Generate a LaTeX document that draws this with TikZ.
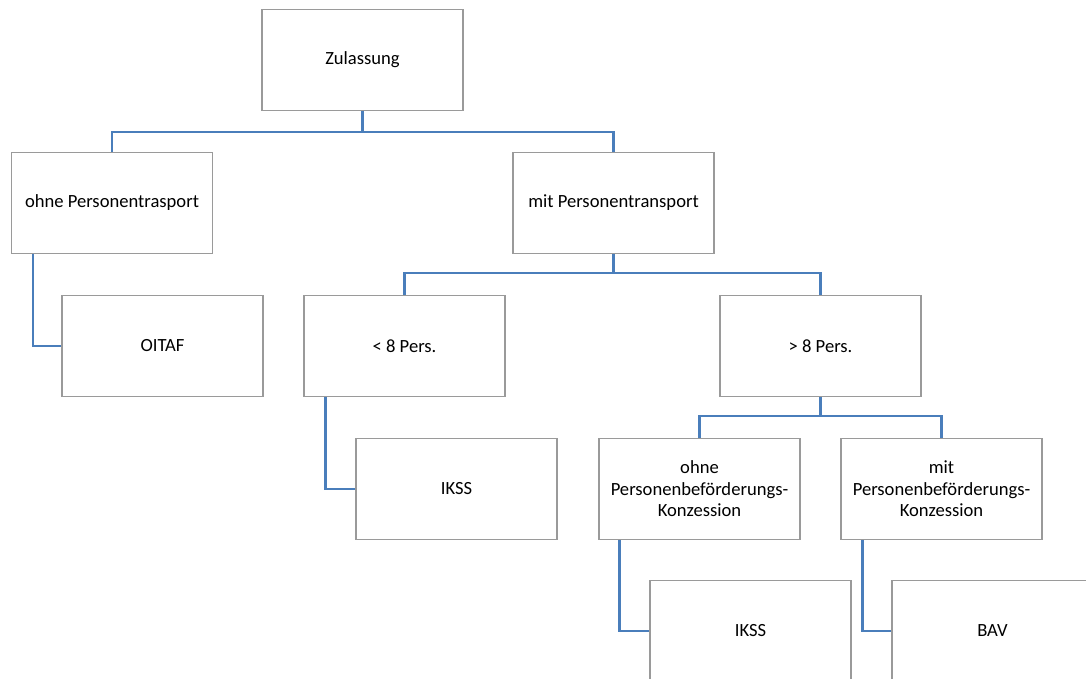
\documentclass[tikz,border=0pt]{standalone}
\usepackage{fontspec}
\setmainfont{Carlito}
\definecolor{conn}{HTML}{4A7EBB}
\definecolor{boxline}{HTML}{9A9A9A}
\begin{document}
\begin{tikzpicture}[x=1pt,y=-1pt,
  box/.style={draw=boxline,line width=1.2pt,fill=white,minimum width=201pt,minimum height=101pt,
    align=center,inner sep=2pt,font=\fontsize{18.6pt}{21.5pt}\selectfont,text=black},
  conn/.style={draw=conn,line width=2.2pt}]
\useasboundingbox (0,0) rectangle (1086,679);
\clip (0,0) rectangle (1086,679);
\node[box] (Z) at (362.5,60) {Zulassung};
\node[box] (A) at (112,203) {ohne Personentrasport};
\node[box] (B) at (613.5,203) {mit Personentransport};
\node[box] (O) at (162.5,346) {OITAF};
\node[box] (L) at (404.5,346) {< 8 Pers.};
\node[box] (G) at (820.5,346) {> 8 Pers.};
\node[box] (I1) at (456.5,489) {IKSS};
\node[box] (OK) at (699.5,489) {ohne\\Personenbeförderungs-\\Konzession};
\node[box] (MK) at (941.5,489) {mit\\Personenbeförderungs-\\Konzession};
\node[box] (I2) at (750.5,631) {IKSS};
\node[box] (BAV) at (992.5,631) {BAV};
\draw[conn] (Z.south) -- ++(0,21) -| (A.north);
\draw[conn] (Z.south) -- ++(0,21) -| (B.north);
\draw[conn] (B.south) -- ++(0,19) -| (L.north);
\draw[conn] (B.south) -- ++(0,19) -| (G.north);
\draw[conn] (G.south) -- ++(0,19) -| (OK.north);
\draw[conn] (G.south) -- ++(0,19) -| (MK.north);
\draw[conn] ([xshift=22pt]A.south west) |- (O.west);
\draw[conn] ([xshift=22pt]L.south west) |- (I1.west);
\draw[conn] ([xshift=21pt]OK.south west) |- (I2.west);
\draw[conn] ([xshift=22pt]MK.south west) |- (BAV.west);
\end{tikzpicture}
\end{document}
